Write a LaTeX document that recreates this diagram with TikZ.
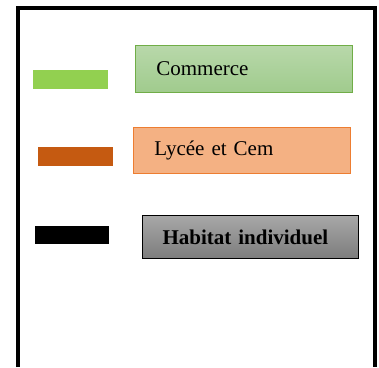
\documentclass[tikz,border=0pt]{standalone}
\usepackage{fontspec}
\setmainfont{Liberation Serif}
\definecolor{swgreen}{RGB}{146,208,80}
\definecolor{sworange}{RGB}{197,90,17}
\definecolor{grtop}{RGB}{184,216,170}
\definecolor{grbot}{RGB}{160,203,141}
\definecolor{grline}{RGB}{112,173,71}
\definecolor{orfill}{RGB}{244,177,131}
\definecolor{orline}{RGB}{237,125,49}
\definecolor{gytop}{RGB}{168,168,168}
\definecolor{gybot}{RGB}{124,124,124}
\begin{document}
\begin{tikzpicture}[x=1pt,y=-1pt,
  swatch/.style={draw=none,inner sep=0pt,anchor=north west},
  legbox/.style={anchor=north west,inner ysep=0pt,align=left,font=\fontsize{21}{24}\selectfont}]
\useasboundingbox (0,0) rectangle (379,367);
\fill[white] (0,0) rectangle (379,367);
\draw[line width=4pt] (18,367) -- (18,8) -- (374.7,8) -- (374.7,367);
% swatches
\node[swatch,fill=swgreen,minimum width=75pt,minimum height=19pt] (sg) at (33,70) {};
\node[swatch,fill=sworange,minimum width=75pt,minimum height=19pt] (so) at (38,147) {};
\node[swatch,fill=black,minimum width=74pt,minimum height=18pt] (sb) at (35,226) {};
% boxes
\node[legbox,draw=grline,line width=0.8pt,top color=grtop,bottom color=grbot,
  inner xsep=21pt,text width=175pt,minimum height=47pt] (bc) at (135,45) {Commerce};
\node[legbox,draw=orline,line width=0.8pt,fill=orfill,
  inner xsep=21pt,text width=175pt,minimum height=46pt] (bl) at (133,127) {Lycée et Cem};
\node[legbox,draw=black,line width=1pt,top color=gytop,bottom color=gybot,
  inner xsep=20pt,text width=176pt,minimum height=43pt,font=\fontsize{21}{24}\selectfont\bfseries] (bh) at (142,215) {Habitat individuel};
\end{tikzpicture}
\end{document}
